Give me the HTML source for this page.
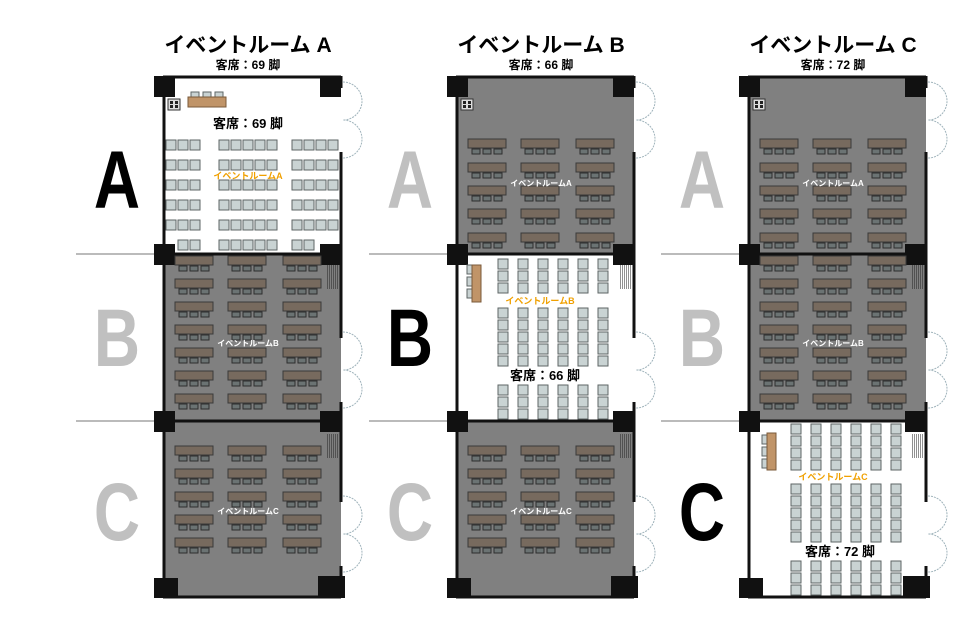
<!DOCTYPE html>
<html><head><meta charset="utf-8"><style>
html,body{margin:0;padding:0;background:#fff;width:960px;height:640px;overflow:hidden}
svg{display:block}
text{font-family:"Liberation Sans","Noto Sans CJK JP",sans-serif;font-weight:bold}
</style></head><body>
<svg id="s" width="960" height="640" viewBox="0 0 960 640" xmlns="http://www.w3.org/2000/svg"></svg>
<script>
var s=document.getElementById('s'),h='';
function R(x,y,w,hh,f,st,sw){h+='<rect x="'+x+'" y="'+y+'" width="'+w+'" height="'+hh+'" fill="'+f+'"'+(st?' stroke="'+st+'" stroke-width="'+(sw||1)+'"':'')+'/>';}
function T(x,y,t,sz,f,extra){h+='<text x="'+x+'" y="'+y+'" font-size="'+sz+'" fill="'+f+'" text-anchor="middle" '+(extra||'')+'>'+t+'</text>';}
var secs=[[76,254],[254,421],[421,598]];
var titles=['A','B','C'],seats=['69','66','72'];
function tables(ox,rows){rows.forEach(function(y){[175,228,283].forEach(function(x){
 R(x+ox,y,38,9,'#776a5e','#3a3a3a',1);
 for(var k=0;k<3;k++)R(x+ox+4+k*11,y+10,8,5,'#6b7373','#2e2e2e',1);});});}
function chair(x,y){R(x,y,10,10,'#c9d3d3','#5e6666',1);}
function door(x,y0){h+='<path d="M'+x+' '+y0+' A19 19 0 0 1 '+x+' '+(y0+38)+' A19 19 0 0 1 '+x+' '+(y0+76)+'" fill="none" stroke="#9fb3bb" stroke-width="1" stroke-dasharray="2 1"/>';}
function grille(x,y){for(var i=0;i<12;i++)h+='<line x1="'+x+'" y1="'+(y+i*2)+'" x2="'+(x+12)+'" y2="'+(y+i*2)+'" stroke="#222" stroke-width="1" stroke-dasharray="1 1"/>';}
for(var b=0;b<3;b++){
 var ox=[0,293,585][b];
 [254,421].forEach(function(y){h+='<line x1="'+(76+ox)+'" y1="'+y+'" x2="'+(160+ox)+'" y2="'+y+'" stroke="#bbb" stroke-width="2"/>';});
 ['A','B','C'].forEach(function(L,i){var cy=[208,366,540][i];
  h+='<text x="0" y="0" font-size="82" fill="'+(i==b?'#000':'#c0c0c0')+'" text-anchor="middle" transform="translate('+(117+ox)+','+cy+') scale(0.78,1)">'+L+'</text>';});
 T(248+ox,52,'イベントルーム '+titles[b],21,'#000');
 T(248+ox,69,'客席：'+seats[b]+' 脚',12,'#000');
 for(var i=0;i<3;i++){R(163+ox,secs[i][0],178,secs[i][1]-secs[i][0],i==b?'#fff':'#808080');}
 [82,332,496].forEach(function(y){door(343+ox,y);});
 h+='<line x1="'+(164+ox)+'" y1="76" x2="'+(164+ox)+'" y2="598" stroke="#111" stroke-width="3"/>';
 h+='<line x1="'+(163+ox)+'" y1="77" x2="'+(341+ox)+'" y2="77" stroke="#111" stroke-width="3"/>';
 h+='<line x1="'+(163+ox)+'" y1="597" x2="'+(341+ox)+'" y2="597" stroke="#111" stroke-width="3"/>';
 [254,421].forEach(function(y){h+='<line x1="'+(163+ox)+'" y1="'+y+'" x2="'+(341+ox)+'" y2="'+y+'" stroke="#111" stroke-width="3"/>';});
 [[76,88],[152,338],[402,502],[566,598]].forEach(function(g){h+='<line x1="'+(341+ox)+'" y1="'+g[0]+'" x2="'+(341+ox)+'" y2="'+g[1]+'" stroke="#111" stroke-width="3"/>';});
 R(154+ox,76,21,21,'#111');R(320+ox,76,21,21,'#111');
 [244,411].forEach(function(y){R(154+ox,y,21,21,'#111');R(320+ox,y,21,21,'#111');});
 R(154+ox,578,24,20,'#111');R(318+ox,576,27,22,'#111');
 grille(327+ox,266);grille(327+ox,435);
 R(168+ox,99,12,11,'#ddd','#333',1);R(170+ox,101,3,3,'#222');R(175+ox,101,3,3,'#222');R(170+ox,105,3,3,'#222');R(175+ox,105,3,3,'#222');
 if(b==0){
  R(191,92,8,5,'#c9d3d3','#5e6666',1);R(203,92,8,5,'#c9d3d3','#5e6666',1);R(215,92,8,5,'#c9d3d3','#5e6666',1);
  R(188,97,38,10,'#c09468','#7a5a3a',1);
  T(248,128,'客席：69 脚',13,'#000');
  [140,160,180,200,220].forEach(function(y){[166,178,190,219,231,243,255,267,292,304,316,328].forEach(function(x){chair(x,y);});});
  [178,190,219,231,243,255,267,292,304].forEach(function(x){chair(x,240);});
  T(248,179,'イベントルームA',9,'#f0a000');
 } else {tables(ox,[139,163,186,209,233]);T(248+ox,186,'イベントルームA',8,'#fff');}
 if(b==1){
  for(var k=0;k<3;k++)R(467,265+k*12,6,9,'#c9d3d3','#5e6666',1);
  R(472,265,9,37,'#c09468','#7a5a3a',1);
  var ys=[259,271,283,308,320,332,344,356,385,397,409];
  ys.forEach(function(y){[498,518,538,558,578,598].forEach(function(x){chair(x,y);});});
  T(540,304,'イベントルームB',9,'#f0a000');
  T(545,380,'客席：66 脚',13,'#000');
 } else {tables(ox,[256,279,302,325,348,371,394]);T(248+ox,346,'イベントルームB',8,'#fff');}
 if(b==2){
  for(var k=0;k<3;k++)R(762,435+k*12,6,9,'#c9d3d3','#5e6666',1);
  R(767,433,9,37,'#c09468','#7a5a3a',1);
  var ys=[424,436,448,460,484,496,508,520,532,561,573,585];
  ys.forEach(function(y){[791,811,831,851,871,891].forEach(function(x){chair(x,y);});});
  T(833,480,'イベントルームC',9,'#f0a000');
  T(840,556,'客席：72 脚',13,'#000');
 } else {tables(ox,[446,469,492,515,538]);T(248+ox,514,'イベントルームC',8,'#fff');}
}
s.innerHTML=h;
</script>
</body></html>
